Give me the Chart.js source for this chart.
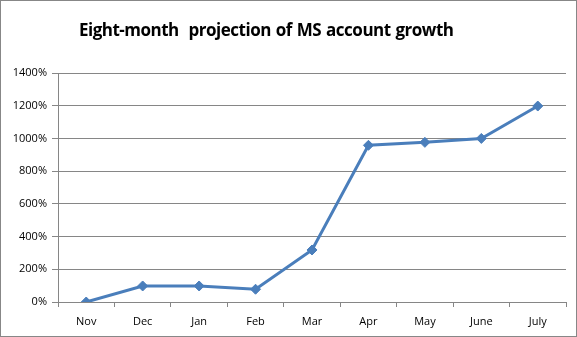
<!DOCTYPE html>
<html>
<head>
<meta charset="utf-8">
<script src="https://cdn.jsdelivr.net/npm/chart.js@4/dist/chart.umd.min.js"></script>
<style>
  html, body { margin: 0; padding: 0; background: #fff; }
  .frame { position: relative; width: 577px; height: 337px; box-sizing: border-box; border: 1px solid #878787; }
  .title {
    position: absolute; left: 78px; top: 17px; white-space: pre;
    font: bold 17px "Open Sans", sans-serif; letter-spacing: -0.5px; word-spacing: 1px; color: #000;
  }
  canvas { display: block; }
</style>
</head>
<body>
<div class="frame">
  <div class="title">Eight-month  projection of MS account growth</div>
  <canvas id="growthChart" width="575" height="335"></canvas>
</div>
<script>
const months = ["Nov", "Dec", "Jan", "Feb", "Mar", "Apr", "May", "June", "July"];
const growthPct = [0, 98, 98, 78, 318, 958, 976, 1000, 1198];
const yTicks = [0, 200, 400, 600, 800, 1000, 1200, 1400];

const gridColor = "#868686";
const lineBlue = "#4a7ebb";

new Chart(document.getElementById("growthChart").getContext("2d"), {
  type: "line",
  data: {
    labels: months,
    datasets: [{
      label: "Growth",
      data: growthPct,
      borderColor: lineBlue,
      backgroundColor: lineBlue,
      borderWidth: 3,
      pointStyle: "rectRot",
      pointRadius: 5,
      pointBorderWidth: 1,
      pointBackgroundColor: lineBlue,
      pointBorderColor: lineBlue,
      tension: 0
    }]
  },
  options: {
    responsive: false,
    animation: false,
    layout: { padding: { left: 0, right: 10, top: 72, bottom: 0 } },
    plugins: {
      legend: { display: false },
      tooltip: { enabled: false },
      title: { display: false }
    },
    scales: {
      x: {
        offset: true,
        grid: { offset: true, drawOnChartArea: false, drawTicks: true, tickLength: 5, color: gridColor },
        border: { color: gridColor },
        ticks: { color: "#000", font: { family: "Open Sans", size: 11 }, padding: 8 },
        afterFit: s => { s.height = 34; }
      },
      y: {
        min: 0,
        max: 1400,
        afterBuildTicks: s => { s.ticks = yTicks.map(v => ({ value: v })); },
        grid: { color: gridColor, drawTicks: true, tickLength: 6 },
        border: { color: gridColor },
        ticks: {
          color: "#000",
          font: { family: "Open Sans", size: 11 },
          padding: 5,
          callback: v => v + "%"
        },
        afterFit: s => { s.width = 57; }
      }
    }
  }
});
</script>
</body>
</html>
